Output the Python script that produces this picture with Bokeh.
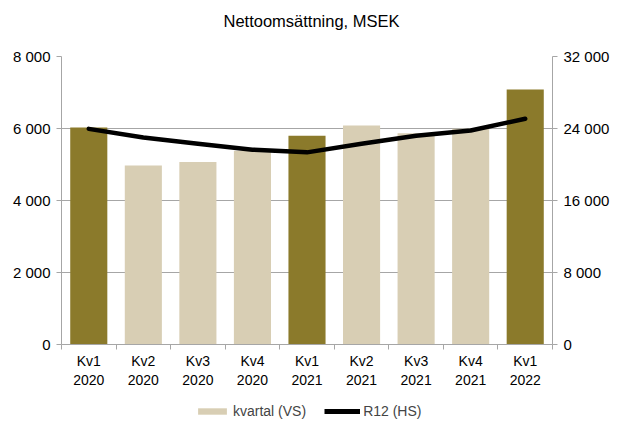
import numpy as np
from bokeh.plotting import figure
from bokeh.layouts import column
from bokeh.models import (Range1d, LinearAxis, FixedTicker, ColumnDataSource,
                          Legend, LegendItem, Label)
from bokeh.embed import file_html
from bokeh.resources import INLINE

title = "Nettoomsättning, MSEK"
categories = ["Kv1\n2020", "Kv2\n2020", "Kv3\n2020", "Kv4\n2020", "Kv1\n2021",
              "Kv2\n2021", "Kv3\n2021", "Kv4\n2021", "Kv1\n2022"]
kvartal = [6030, 4970, 5070, 5380, 5800, 6080, 5870, 5990, 7080]
r12 = [23960, 23000, 22300, 21650, 21350, 22300, 23200, 23780, 25080]
is_q1 = [True, False, False, False, True, False, False, False, True]
left_ticks = [0, 2000, 4000, 6000, 8000]
right_ticks = [0, 8000, 16000, 24000, 32000]
legend_labels = ["kvartal (VS)", "R12 (HS)"]

DARK = "#8B7A2B"
LIGHT = "#D8CEB4"
GRID = "#A6A6A6"
FONT = "Liberation Sans"
W = 617
LEFT = 61
RIGHT = 65

def fmt(v):
    return f"{v:,}".replace(",", " ")

def blank(height):
    f = figure(width=W, height=height, output_backend="svg", toolbar_location=None,
               x_range=Range1d(0, 1), y_range=Range1d(0, 1),
               x_axis_location=None, y_axis_location=None,
               min_border=0)
    f.outline_line_color = None
    f.grid.visible = False
    f.border_fill_color = "white"
    f.background_fill_color = "white"
    return f

# --- title strip (frame aligned with main chart's frame in the column) ---
p0 = blank(40)
p0.add_layout(Label(x=250, y=20, x_units="screen", y_units="screen", text=title,
                    text_font=FONT, text_font_size="16.5px", text_color="#000000",
                    text_align="center", text_baseline="middle"))

# --- main chart ---
x = np.arange(1, len(categories) + 1)
src = ColumnDataSource(dict(x=x, top=kvartal, r12=r12,
                            color=[DARK if q else LIGHT for q in is_q1]))

p = figure(width=W, output_backend="svg", toolbar_location=None,
           x_range=Range1d(0.5, len(categories) + 0.5), y_range=Range1d(0, 8000),
           frame_width=W - LEFT - RIGHT, frame_height=288,
           min_border_left=LEFT, min_border_right=RIGHT, min_border_top=16,
           min_border_bottom=51)
p.extra_y_ranges = {"r": Range1d(0, 32000)}
p.outline_line_color = None
p.background_fill_color = "white"
p.border_fill_color = "white"

bars = p.vbar(x="x", top="top", width=0.68, fill_color="color", line_color=None, source=src)
line = p.line(x="x", y="r12", y_range_name="r", line_color="black", line_width=4.5,
              line_join="round", line_cap="round", source=src)

xa = p.xaxis[0]
xa.ticker = FixedTicker(ticks=list(x), minor_ticks=list(np.arange(0.5, len(categories) + 1, 1.0)))
xa.major_label_overrides = {int(i): c for i, c in zip(x, categories)}
xa.major_tick_line_color = None
xa.minor_tick_line_color = GRID
xa.minor_tick_out = 5
xa.minor_tick_in = 0
xa.axis_line_color = GRID
xa.major_label_text_font = FONT
xa.major_label_text_font_size = "14px"
xa.major_label_text_color = "#000000"
xa.major_label_standoff = 2

ya = p.yaxis[0]
ya.ticker = FixedTicker(ticks=left_ticks, minor_ticks=[])
ya.major_label_overrides = {t: fmt(t) for t in left_ticks}

ra = LinearAxis(y_range_name="r")
ra.ticker = FixedTicker(ticks=right_ticks, minor_ticks=[])
ra.major_label_overrides = {t: fmt(t) for t in right_ticks}
p.add_layout(ra, "right")

for ax in [ya, ra]:
    ax.axis_line_color = GRID
    ax.major_tick_line_color = GRID
    ax.major_tick_out = 5
    ax.major_tick_in = 0
    ax.minor_tick_line_color = None
    ax.major_label_text_font = FONT
    ax.major_label_text_font_size = "15px"
    ax.major_label_text_color = "#000000"
    ax.major_label_standoff = 6

p.xgrid.grid_line_color = None
p.ygrid.grid_line_color = GRID
p.ygrid.ticker = FixedTicker(ticks=left_ticks)

# --- legend strip: zero-size proxy glyphs carry the legend swatches ---
p2 = blank(26)
lb = p2.vbar(x=[0.5], top=[0], bottom=[0], width=0, fill_color=LIGHT, line_color=None)
ll = p2.line(x=[0.5, 0.5], y=[0, 0], line_color="black", line_width=5, line_alpha=1)
legend = Legend(items=[LegendItem(label=legend_labels[0], renderers=[lb]),
                       LegendItem(label=legend_labels[1], renderers=[ll])],
                orientation="horizontal", location=(133, 2),
                label_text_font=FONT, label_text_font_size="14px",
                glyph_width=36, glyph_height=8, spacing=18, label_standoff=3,
                padding=0, margin=0, border_line_color=None,
                background_fill_alpha=0)
p2.add_layout(legend, "center")

layout = column(p0, p, p2, spacing=0)
open("out.html", "w").write(file_html(layout, INLINE))
